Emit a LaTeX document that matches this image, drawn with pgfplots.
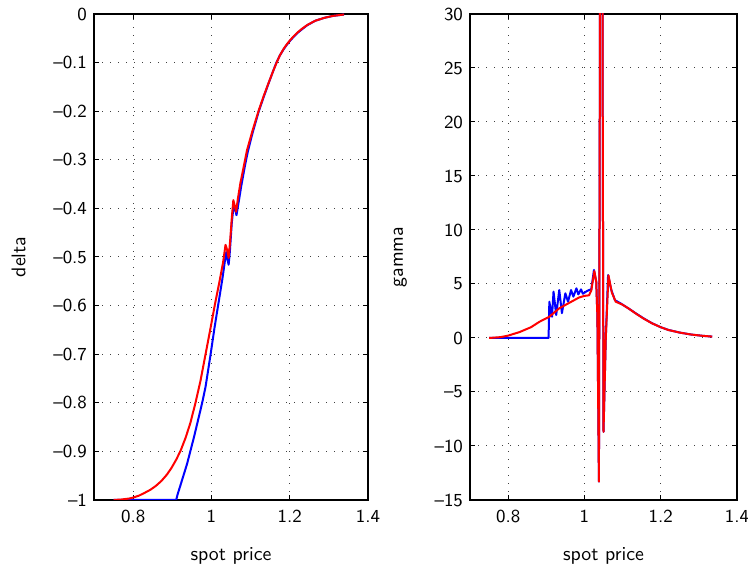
\documentclass[border=0pt]{standalone}
\usepackage{pgfplots}
\pgfplotsset{compat=1.18}
\renewcommand{\familydefault}{\sfdefault}

\pgfplotsset{
  mlab/.style={
    scale only axis,
    width=137pt, height=243pt,
    xmin=0.7, xmax=1.4,
    xtick={0.8,1,1.2,1.4},
    xticklabels={0.8,1,1.2,1.4},
    grid=major,
    major grid style={black!75, line width=0.5pt, dash pattern=on 0.5pt off 3.5pt},
    axis line style={line width=0.6pt},
    major tick length=2.5pt,
    tick style={black, line width=0.5pt},
    tick align=inside,
    ticklabel style={font=\fontsize{9.2}{11}\selectfont},
    xticklabel style={yshift=-1.5pt},
    label style={font=\fontsize{9.9}{12}\selectfont},
    xlabel={spot price},
    xlabel style={yshift=-5.5pt},
    ylabel style={yshift=7pt},
    every axis plot/.append style={line join=round},
    clip=true,
  },
}

\begin{document}
\begin{tikzpicture}
\path[use as bounding box] (-47pt,-32.5pt) rectangle (327pt,250pt);

\begin{axis}[mlab,
  at={(0,0)}, anchor=south west,
  ymin=-1, ymax=0,
  ytick={-1,-0.9,-0.8,-0.7,-0.6,-0.5,-0.4,-0.3,-0.2,-0.1,0},
  yticklabels={--1,--0.9,--0.8,--0.7,--0.6,--0.5,--0.4,--0.3,--0.2,--0.1,0},
  ylabel={delta},
]
\addplot[blue, line width=1pt] coordinates {
  (0.75,-1)(0.91,-1)(0.913,-0.99)(0.92,-0.972)(0.938,-0.925)(0.955,-0.872)
  (0.972,-0.815)(0.978,-0.794)(0.985,-0.767)(0.997,-0.705)(1.008,-0.645)
  (1.019,-0.59)(1.028,-0.545)(1.035,-0.505)(1.038,-0.49)(1.041,-0.505)
  (1.044,-0.516)(1.047,-0.49)(1.052,-0.43)(1.057,-0.392)(1.060,-0.400)
  (1.064,-0.414)(1.069,-0.39)(1.076,-0.355)(1.085,-0.315)(1.093,-0.283)
  (1.105,-0.245)(1.121,-0.2)(1.133,-0.172)(1.145,-0.145)(1.156,-0.121)
  (1.166,-0.1)(1.175,-0.085)(1.185,-0.072)(1.193,-0.063)(1.201,-0.055)
  (1.21,-0.047)(1.22,-0.039)(1.232,-0.031)(1.245,-0.023)(1.265,-0.014)
  (1.288,-0.008)(1.31,-0.004)(1.339,-0.001)
};
\addplot[red, line width=1pt] coordinates {
  (0.75,-1)(0.77,-0.999)(0.79,-0.997)(0.80,-0.995)(0.815,-0.991)(0.83,-0.985)
  (0.844,-0.979)(0.858,-0.971)(0.872,-0.961)(0.886,-0.948)(0.898,-0.934)
  (0.91,-0.917)(0.921,-0.899)(0.934,-0.872)(0.946,-0.842)(0.959,-0.801)
  (0.972,-0.755)(0.985,-0.70)(0.998,-0.645)(1.01,-0.593)(1.02,-0.553)
  (1.03,-0.51)(1.036,-0.475)(1.04,-0.485)(1.044,-0.502)(1.048,-0.465)
  (1.052,-0.42)(1.056,-0.383)(1.060,-0.396)(1.063,-0.407)(1.068,-0.378)
  (1.074,-0.348)(1.083,-0.312)(1.091,-0.28)(1.105,-0.24)(1.121,-0.198)
  (1.133,-0.17)(1.145,-0.144)(1.156,-0.121)(1.166,-0.101)(1.175,-0.085)
  (1.185,-0.071)(1.193,-0.062)(1.201,-0.054)(1.21,-0.046)(1.22,-0.038)
  (1.232,-0.030)(1.245,-0.0226)(1.265,-0.014)(1.288,-0.008)(1.31,-0.004)
  (1.339,-0.001)
};
\end{axis}

\begin{axis}[mlab,
  at={(188pt,0)}, anchor=south west,
  width=133.5pt,
  ymin=-15, ymax=30,
  ytick={-15,-10,-5,0,5,10,15,20,25,30},
  yticklabels={--15,--10,--5,0,5,10,15,20,25,30},
  ylabel={gamma},
]
\addplot[blue, line width=1pt] coordinates {
  (0.75,0)(0.906,0)(0.908,3.36)(0.915,1.97)(0.919,4.29)(0.926,2.13)
  (0.934,4.44)(0.941,2.3)(0.950,4.14)(0.957,3.36)(0.965,4.44)(0.971,3.83)
  (0.979,4.6)(0.984,4.04)(0.991,4.5)(0.996,4.1)(1.004,4.29)(1.012,4.44)
  (1.018,4.5)(1.025,6.3)(1.031,5.2)(1.034,2)(1.038,-13.3)(1.044,80)
  (1.050,-8.7)(1.056,0)(1.062,5.83)(1.070,4.5)(1.08,3.5)(1.095,3.2)
  (1.115,2.75)(1.134,2.3)(1.155,1.82)(1.177,1.37)(1.2,1.0)(1.22,0.75)
  (1.25,0.5)(1.28,0.32)(1.31,0.2)(1.335,0.13)
};
\addplot[red, line width=1pt] coordinates {
  (0.75,0)(0.78,0.08)(0.80,0.22)(0.83,0.55)(0.86,1.0)(0.882,1.5)(0.908,1.97)
  (0.934,2.75)(0.96,3.25)(0.986,3.75)(1.0,3.9)(1.012,3.95)(1.018,4.4)
  (1.026,6.2)(1.031,5.2)(1.034,2)(1.038,-13.3)(1.044,80)(1.050,-8.7)
  (1.056,0)(1.063,5.8)(1.072,4.2)(1.082,3.36)(1.099,3.1)(1.115,2.75)
  (1.134,2.28)(1.155,1.8)(1.177,1.36)(1.2,1.0)(1.22,0.74)(1.25,0.5)
  (1.28,0.32)(1.31,0.2)(1.335,0.13)
};
\end{axis}
\end{tikzpicture}
\end{document}
